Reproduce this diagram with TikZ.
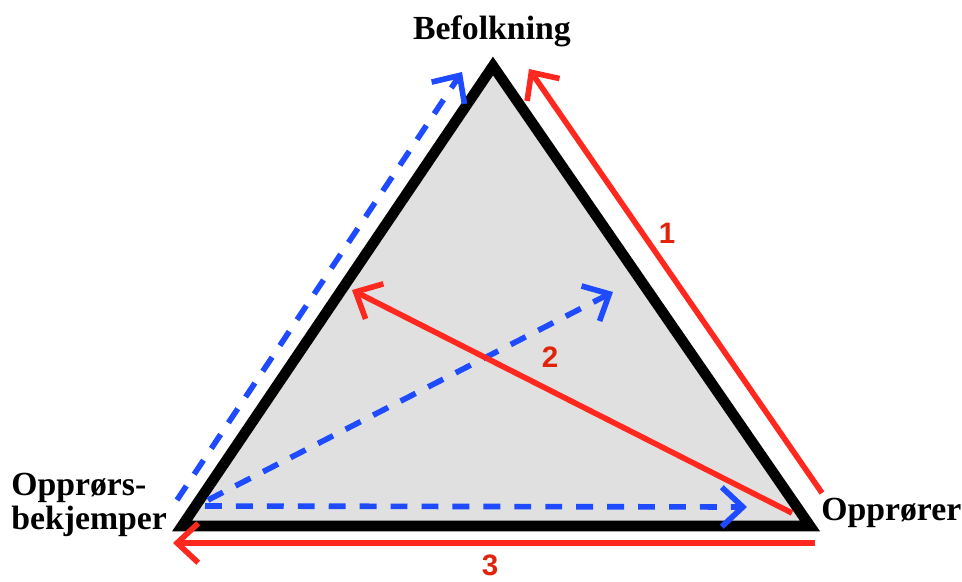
\documentclass[tikz,border=0pt]{standalone}
\usepackage{fontspec}
\setmainfont{Liberation Serif}
\newfontfamily\numfont{Liberation Sans}
\usetikzlibrary{arrows.meta}
\definecolor{arrred}{RGB}{255,40,30}
\definecolor{numred}{RGB}{225,35,10}
\definecolor{arrblue}{RGB}{30,75,255}
\definecolor{areagrey}{RGB}{224,224,224}
\begin{document}
\begin{tikzpicture}[x=0.025cm,y=-0.025cm,
actor/.style={inner sep=0pt,font=\fontsize{24}{24}\selectfont\bfseries},
num/.style={inner sep=0pt,text=numred,font=\fontsize{21}{21}\selectfont\numfont\bfseries},
side/.style={draw=black,line width=7.5pt,fill=areagrey,miter limit=20},
move/.style={line width=4pt,arrows={-Straight Barb[length=15pt,width=28pt]}},
redmove/.style={move,draw=arrred},
bluemove/.style={move,draw=arrblue,dash pattern=on 12pt off 10pt}]
\useasboundingbox (0,0) rectangle (962,581);
% triangle corners
\coordinate (top) at (493,66);
\coordinate (bl) at (182,526);
\coordinate (br) at (810,526);
\draw[side] (top) -- (bl) -- (br) -- cycle;
% labels
\node[actor,anchor=base] (befolkning) at (492,39) {Befolkning};
\node[actor,anchor=west,align=left] (bekjemper) at (11,505) {Opprørs-\\bekjemper};
\node[actor,anchor=base west] (opprorer) at (821,520) {Opprører};
% end points of the moves
\coordinate (r1a) at (822,493); \coordinate (r1b) at (529,69);
\coordinate (r2a) at (792,513); \coordinate (r2b) at (352,290);
\coordinate (r3a) at (815,543); \coordinate (r3b) at (173,543);
\coordinate (b1a) at (177,500); \coordinate (b1b) at (462,72);
\coordinate (b2a) at (208,500); \coordinate (b2b) at (613,292);
\coordinate (b3a) at (205,506); \coordinate (b3b) at (747,507);
\draw[bluemove] (b1a)--(b1b);
\draw[bluemove] (b2a)--(b2b);
\draw[bluemove] (b3a)--(b3b);
\draw[redmove] (r1a)--(r1b);
\draw[redmove] (r2a)--(r2b);
\draw[redmove] (r3a)--(r3b);
\node[num] (n1) at (667,233) {1};
\node[num] (n2) at (550,357) {2};
\node[num] (n3) at (490,565) {3};
\end{tikzpicture}
\end{document}
